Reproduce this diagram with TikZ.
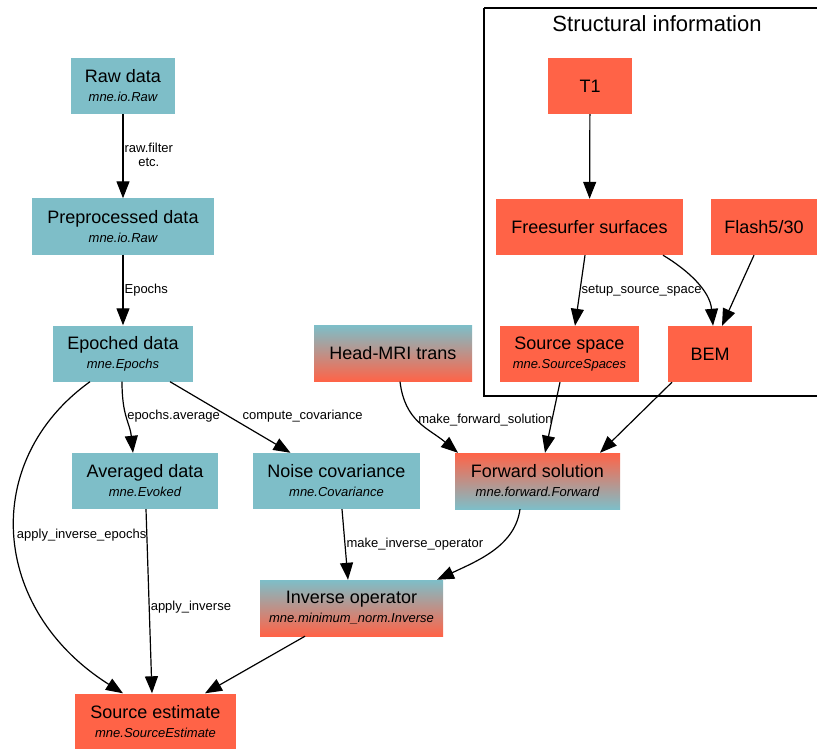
\documentclass[tikz,border=0pt]{standalone}
\usepackage{fontspec}
\setmainfont{Liberation Sans}
\usetikzlibrary{arrows.meta}

\definecolor{mneteal}{RGB}{126,190,200}
\definecolor{mnered}{RGB}{255,99,71}

\newcommand{\pyclass}[1]{\\[-1pt]{\fontsize{13}{14}\selectfont\itshape #1}}

\begin{document}
\begin{tikzpicture}[x=1pt,y=-1pt]
  %----- styles
  \tikzset{
    base/.style    ={minimum height=56pt,align=center,inner sep=2pt,font=\fontsize{18}{20}\selectfont},
    funcbox/.style ={base,fill=mneteal},
    anatbox/.style ={base,fill=mnered},
    mixdown/.style ={base,top color=mneteal,bottom color=mnered},
    mixup/.style   ={base,top color=mnered,bottom color=mneteal},
    arrow/.style   ={-{Triangle[length=17pt,width=13pt]},line width=1.2pt},
    lbl/.style     ={font=\fontsize{13}{14}\selectfont,inner sep=1pt,align=center},
    cluster/.style ={draw,line width=1.2pt}
  }
  \useasboundingbox (0,0) rectangle (817,749);

  %==================== COLUMN LAYOUT ====================
  \def\xL{123}   % raw / preprocessed / epoched column
  \def\xS{590}   % structural column

  %----- structural cluster
  \draw[cluster] (484,8) -- (822,8) (484,8) -- (484,396) -- (822,396);
  \node[font=\fontsize{22}{24}\selectfont] (structtitle) at (657,24) {Structural information};

  %----- nodes
  % Left column: data objects
  \node[funcbox,minimum width=104pt] (raw) at (\xL,86)    {Raw data\pyclass{mne.io.Raw}};
  \node[funcbox,minimum width=182pt] (pre) at (\xL,226.5) {Preprocessed data\pyclass{mne.io.Raw}};
  \node[funcbox,minimum width=140pt] (epo) at (\xL,353.5) {Epoched data\pyclass{mne.Epochs}};

  % Middle row
  \node[funcbox,minimum width=146pt] (avg)   at (145,481)   {Averaged data\pyclass{mne.Evoked}};
  \node[funcbox,minimum width=167pt] (noise) at (336.5,481) {Noise covariance\pyclass{mne.Covariance}};
  \node[mixdown,minimum width=158pt] (head)  at (393,353.5) {Head-MRI trans};
  \node[mixup,minimum width=165pt]   (fwd)   at (537.5,481) {Forward solution\pyclass{mne.forward.Forward}};

  % Bottom
  \node[mixdown,minimum width=183pt] (inv) at (351.5,608)   {Inverse operator\pyclass{mne.minimum\_norm.Inverse}};
  \node[anatbox,minimum width=161pt] (src) at (155.5,721.5) {Source estimate\pyclass{mne.SourceEstimate}};

  % Structural information
  \node[anatbox,minimum width=84pt]  (t1)    at (\xS,86)    {T1};
  \node[anatbox,minimum width=187pt] (fs)    at (589.5,227) {Freesurfer surfaces};
  \node[anatbox,minimum width=106pt] (flash) at (764,227)   {Flash5/30};
  \node[anatbox,minimum width=139pt] (ss)    at (569.5,354) {Source space\pyclass{mne.SourceSpaces}};
  \node[anatbox,minimum width=84pt]  (bem)   at (710,354)   {BEM};

  %----- connections
  \draw[arrow] (raw) -- node[lbl,anchor=west,pos=0.48] {raw.filter\\etc.} (pre);
  \draw[arrow] (pre) -- node[lbl,anchor=west,pos=0.5] {Epochs} (epo);

  \draw[arrow] ([xshift=-1pt]epo.south) .. controls +(0,35) and +(-3,-30) .. ([xshift=-12pt]avg.north)
    node[lbl,anchor=west,pos=0.45] {epochs.average};
  \draw[arrow] ([xshift=47pt]epo.south) -- node[lbl,anchor=west,pos=0.49,xshift=12pt] {compute\_covariance} ([xshift=-46pt]noise.north);
  \draw[arrow] ([xshift=-33pt]epo.south) .. controls +(-110,79) and +(-133,-84) .. ([xshift=-32.5pt]src.north)
    node[lbl,anchor=west,pos=0.5] {apply\_inverse\_epochs};

  \draw[arrow] ([xshift=1pt]avg.south) -- node[lbl,anchor=west,pos=0.53] {apply\_inverse} ([xshift=-3.5pt]src.north);
  \draw[arrow] ([xshift=-46.5pt]inv.south) -- ([xshift=49.5pt]src.north);
  \draw[arrow] ([xshift=5.5pt]noise.south) -- node[lbl,anchor=west,pos=0.5] {make\_inverse\_operator} ([xshift=-3.5pt]inv.north);
  \draw[arrow] ([xshift=-17.5pt]fwd.south) .. controls +(-5,36) and +(43,-20) .. ([xshift=85.5pt]inv.north);

  \draw[arrow] ([xshift=7pt]head.south) .. controls +(5,40) and +(-30,-25) .. ([xshift=-79.5pt]fwd.north)
    node[lbl,anchor=west,pos=0.45] {make\_forward\_solution};
  \draw[arrow] ([xshift=-9.5pt]ss.south) -- ([xshift=7.5pt]fwd.north);
  \draw[arrow] ([xshift=-38pt]bem.south) -- ([xshift=62.5pt]fwd.north);

  \draw[arrow] (t1) -- (fs);
  \draw[arrow] ([xshift=-4.5pt]fs.south) -- node[lbl,anchor=west,pos=0.5] {setup\_source\_space} ([xshift=5.5pt]ss.north);
  \draw[arrow] ([xshift=73.5pt]fs.south) .. controls +(25,15) and +(-3,-35) .. ([xshift=3pt]bem.north);
  \draw[arrow] ([xshift=-10pt]flash.south) -- ([xshift=12pt]bem.north);

\end{tikzpicture}
\end{document}
